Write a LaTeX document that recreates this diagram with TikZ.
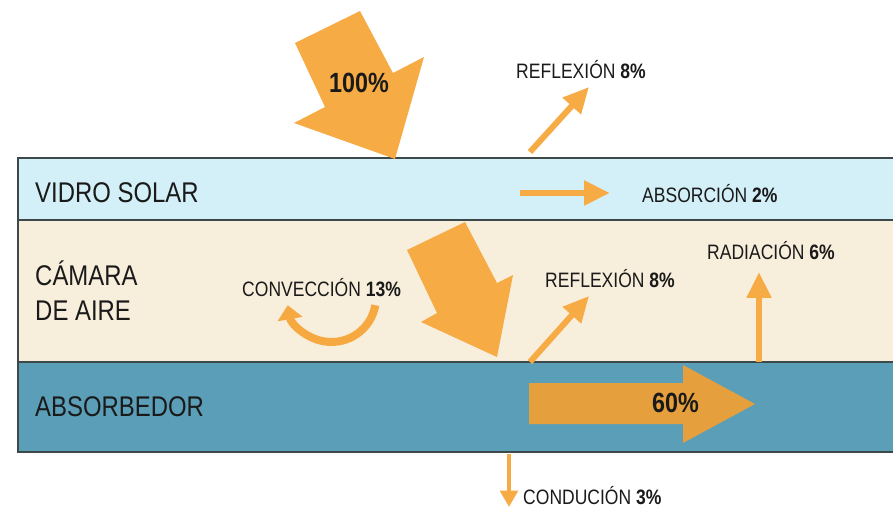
\documentclass[tikz,border=0pt]{standalone}
\usepackage{fontspec}
\setmainfont{Liberation Sans}[FakeStretch=0.84]
\usetikzlibrary{arrows.meta}
\definecolor{sun}{HTML}{F7AB44}
\definecolor{sundark}{HTML}{E59F3C}
\definecolor{glass}{HTML}{D3EFF8}
\definecolor{air}{HTML}{F8EEDC}
\definecolor{plate}{HTML}{5B9EB8}
\definecolor{frame}{HTML}{3D4848}
\definecolor{ink}{HTML}{1A1A1A}
\begin{document}
\begin{tikzpicture}[x=0.03cm,y=-0.03cm,
		layer/.style={font=\fontsize{24.3}{28}\selectfont,text=ink,inner sep=0,anchor=base west},
		lbl/.style={font=\fontsize{17.8}{20}\selectfont,text=ink,inner sep=0,anchor=base west},
		big/.style={font=\fontsize{23.7}{28}\selectfont\bfseries,text=ink,inner sep=0,anchor=base west},
		ray/.style={sun,line width=5.1pt,-{Triangle[length=22pt,width=20pt]}}]
		\useasboundingbox (0,0) rectangle (893,507);
		\fill[glass] (18,158) rectangle (893,220);
		\fill[air] (18,220) rectangle (893,362);
		\fill[plate] (18,362) rectangle (893,452);
		\draw[frame,line width=1.7pt] (893,158) -- (18,158) -- (18,452) -- (893,452);
		\draw[frame,line width=1.7pt] (18,220) -- (893,220);
		\draw[frame,line width=1.7pt] (18,362) -- (893,362);
		\node[layer] (vidro) at (35,202) {VIDRO SOLAR};
		\node[layer] (camara) at (35,285) {CÁMARA};
		\node[layer] (aire) at (35,320) {DE AIRE};
		\node[layer] (absorbedor) at (35,416) {ABSORBEDOR};
		\fill[sun] (360,11) -- (295,43) -- (325,107) -- (294,123) -- (395,159) -- (424,57) -- (393,73) -- cycle;
		\node[big] (total) at (329,93) {100\%};
		\fill[sun] (407,250) -- (465,222) -- (497,283) -- (513,275) -- (497,357) -- (421,322) -- (437,313) -- cycle;
		\fill[sundark] (529,383) -- (683,383) -- (683,365) -- (755,404) -- (683,443) -- (683,424) -- (529,424) -- cycle;
		\node[big] (util) at (652,412) {60\%};
		\draw[ray] (530,152) -- (589,87);
		\node[lbl] (refl1) at (516,79) {REFLEXIÓN \textbf{8\%}};
		\draw[ray] (520,193) -- (610,193);
		\node[lbl] (absor) at (642,202) {ABSORCIÓN \textbf{2\%}};
		\draw[ray] (530,362) -- (589,296);
		\node[lbl] (refl2) at (545,287) {REFLEXIÓN \textbf{8\%}};
		\draw[ray] (759,362) -- (759,272);
		\node[lbl] (rad) at (707,259) {RADIACIÓN \textbf{6\%}};
		\draw[sun!95!orange,line width=6.8pt,-{Triangle[length=12pt,width=21pt]}] (331.5,297.5) ++(10:44.5) arc[start angle=10,end angle=170,radius=44.5];
		\node[lbl] (conv) at (242,296) {CONVECCIÓN \textbf{13\%}};
		\draw[sun,line width=3.4pt,-{Triangle[length=14pt,width=15pt]}] (509,454) -- (509,507);
		\node[lbl] (cond) at (523,504) {CONDUCIÓN \textbf{3\%}};
	\end{tikzpicture}
\end{document}
